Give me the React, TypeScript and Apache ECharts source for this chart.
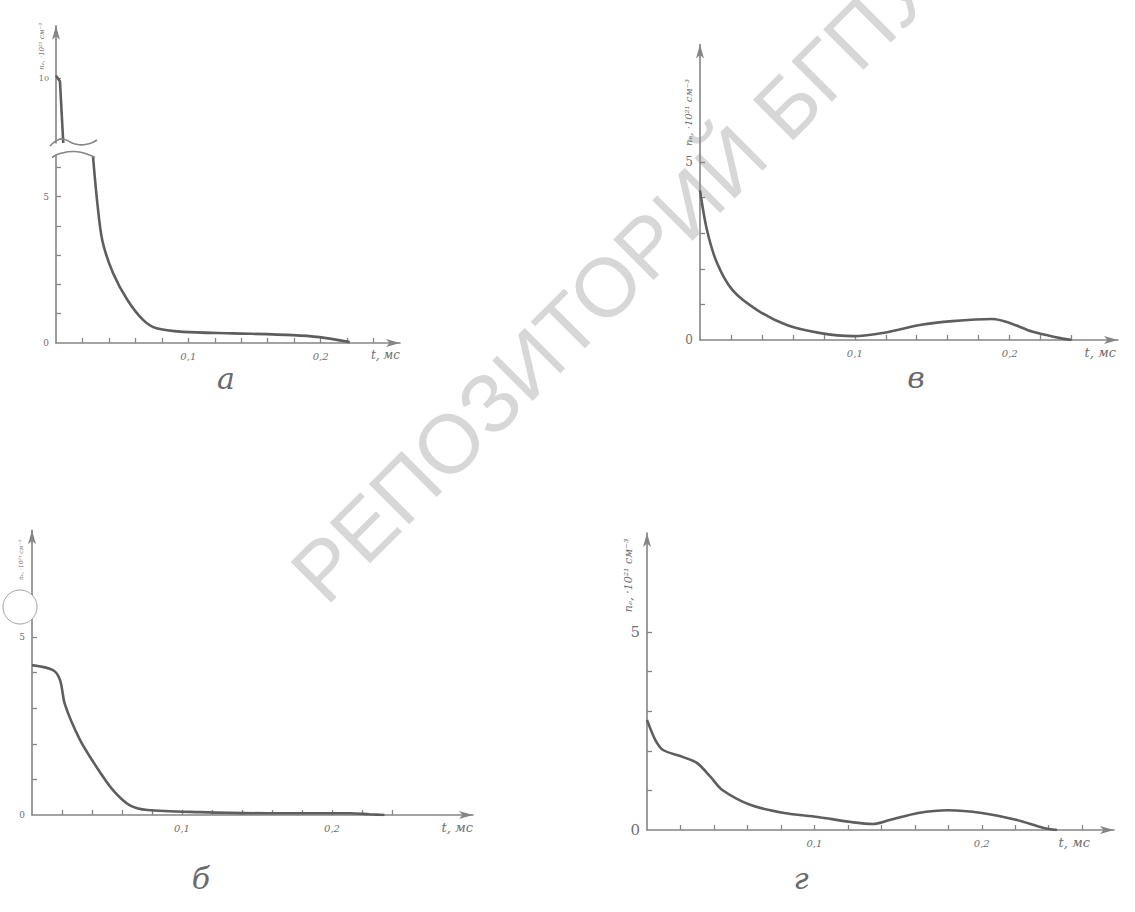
import React, { useEffect, useRef } from "react";
import * as echarts from "echarts";

// ---------- data (t in ms, n_e in 10^21 cm^-3) ----------
// panel а: part above the axis break
const tAUp = [0, 0.003, 0.0055];
const nAUp = [10.1, 9.9, 7.8];
// panel а: part below the axis break
const tA = [0.028, 0.031, 0.035, 0.043, 0.054, 0.066, 0.076, 0.096, 0.134, 0.179, 0.199, 0.222];
const nA = [6.35, 4.88, 3.5, 2.4, 1.47, 0.78, 0.5, 0.38, 0.33, 0.27, 0.2, 0.03];
// panel в
const tB = [0, 0.0045, 0.011, 0.021, 0.037, 0.056, 0.077, 0.099, 0.121, 0.142, 0.163, 0.189, 0.2, 0.215, 0.232, 0.24];
const nB = [4.2, 3.09, 2.16, 1.4, 0.84, 0.42, 0.2, 0.11, 0.22, 0.42, 0.53, 0.59, 0.48, 0.23, 0.06, 0];
// panel б
const tV = [0, 0.014, 0.0187, 0.022, 0.032, 0.043, 0.054, 0.065, 0.077, 0.112, 0.157, 0.212, 0.225, 0.235];
const nV = [4.21, 4.07, 3.79, 3.1, 2.11, 1.35, 0.7, 0.28, 0.14, 0.08, 0.05, 0.05, 0.02, 0];
// panel г
const tG = [0, 0.005, 0.0096, 0.0216, 0.03, 0.038, 0.045, 0.062, 0.082, 0.102, 0.122, 0.135, 0.145, 0.162, 0.18, 0.2, 0.221, 0.237, 0.245];
const nG = [2.78, 2.27, 2.02, 1.84, 1.69, 1.34, 1.01, 0.63, 0.43, 0.33, 0.2, 0.15, 0.25, 0.43, 0.5, 0.43, 0.25, 0.05, 0];

// tick / label values
const xTickA = [0.02, 0.04, 0.06, 0.08, 0.1, 0.12, 0.14, 0.16, 0.18, 0.2, 0.22, 0.24];
const xTickG = [0.02, 0.04, 0.06, 0.08, 0.1, 0.12, 0.14, 0.16, 0.18, 0.2, 0.22, 0.24, 0.26];
const xLabels = [0.1, 0.2];
const yTickA = [1, 2, 3, 4, 5, 6];
const yTick5 = [1, 2, 3, 4, 5];
const yLabels = [0, 5];
const yLabelsUp = [10];

const captions = ["а", "в", "б", "г"];
const xName = "t, мс";
const yName = "nₑ, ·10²¹ см⁻³";
const watermark = "РЕПОЗИТОРИЙ БГПУ";

const AX = "#858585";
const LINE = "#5e5e5e";
const LBL = "#6f6f6f";
const FONT = '"DejaVu Serif", serif';

const zip = (a: number[], b: number[]) => a.map((v, i) => [v, b[i]]);
const fmt = (v: number) => v.toFixed(1).replace(".", ",");

function xAx(grid: number, max: number, ticks: number[], nameGap: number, show = true, nameSize = 13) {
  return {
    type: "value",
    gridIndex: grid,
    min: 0,
    max,
    show,
    axisLine: {
      show: true,
      onZero: false,
      symbol: ["none", "arrow"],
      symbolSize: [6, 14],
      lineStyle: { color: AX, width: 1.6 },
    },
    axisTick: { show: true, inside: true, length: 5, customValues: ticks, lineStyle: { color: AX, width: 1.3 } },
    axisLabel: {
      customValues: xLabels,
      formatter: (v: number) => fmt(v),
      color: LBL,
      fontSize: 10,
      fontStyle: "italic",
      fontFamily: FONT,
      margin: 8,
    },
    splitLine: { show: false },
    name: xName,
    nameLocation: "end",
    nameGap,
    nameTextStyle: {
      align: "right",
      verticalAlign: "top",
      padding: [6, 0, 0, 0],
      color: LBL,
      fontSize: nameSize,
      fontStyle: "italic",
      fontFamily: FONT,
    },
  };
}

function yAx(grid: number, min: number, max: number, ticks: number[], labels: number[], arrow: boolean, fontSize = 11) {
  return {
    type: "value",
    gridIndex: grid,
    min,
    max,
    axisLine: {
      show: true,
      symbol: arrow ? ["none", "arrow"] : ["none", "none"],
      symbolSize: [6, 14],
      lineStyle: { color: AX, width: 1.6 },
    },
    axisTick: { show: true, inside: true, length: 5, customValues: ticks, lineStyle: { color: AX, width: 1.3 } },
    axisLabel: {
      customValues: labels,
      color: LBL,
      fontSize,
      fontFamily: FONT,
      margin: 7,
    },
    splitLine: { show: false },
  };
}

function line(xi: number, data: number[][], smooth: number | boolean = 0.3) {
  return {
    type: "line",
    xAxisIndex: xi,
    yAxisIndex: xi,
    data,
    showSymbol: false,
    smooth,
    lineStyle: { color: LINE, width: 2.6 },
    z: 5,
  };
}

export default function App() {
  const ref = useRef<HTMLDivElement>(null);
  useEffect(() => {
    const chart = echarts.init(ref.current!, null, { renderer: "svg" });
    const option: any = {
      animation: false,
      backgroundColor: "#ffffff",
      grid: [
        { left: 56, top: 155.5, width: 344, height: 187.5 },
        { left: 56, top: 25.8, width: 344, height: 117.2 },
        { left: 700, top: 44.5, width: 418, height: 295.5 },
        { left: 32, top: 530.2, width: 441, height: 284.8 },
        { left: 647, top: 533, width: 467, height: 297 },
      ],
      xAxis: [
        xAx(0, 0.26, xTickA, 0, true, 12),
        xAx(1, 0.26, [], 0, false),
        xAx(2, 0.27, xTickA, -2),
        xAx(3, 0.294, xTickA, 0),
        xAx(4, 0.279, xTickG, -24),
      ],
      yAxis: [
        yAx(0, 0, 6.4, yTickA, yLabels, false, 9),
        yAx(1, 7.8, 11.8, yLabelsUp, yLabelsUp, true, 8),
        yAx(2, 0, 8.3, yTick5, yLabels, true, 12),
        yAx(3, 0, 8, yTick5, yLabels, true, 9),
        yAx(4, 0, 7.5, yTick5, yLabels, true, 15),
      ],
      series: [
        line(0, zip(tA, nA)),
        line(1, zip(tAUp, nAUp), false),
        line(2, zip(tB, nB)),
        line(3, zip(tV, nV)),
        line(4, zip(tG, nG)),
      ],
    };
    chart.setOption(option);

    const px = (g: number, pt: number[]) => chart.convertToPixel({ gridIndex: g } as any, pt) as number[];
    const yLabel = (g: number, val: number, dx: number, size: number) => {
      const p = px(g, [0, val]);
      return {
        type: "text",
        x: p[0] + dx,
        y: p[1],
        rotation: Math.PI / 2,
        z: 10,
        style: {
          text: yName,
          fill: LBL,
          font: `italic ${size}px ${FONT}`,
          align: "left",
          verticalAlign: "middle",
        },
      };
    };
    const wave = (g: number, val: number, pts: number[][]) => {
      const o = px(g, [0, val]);
      return {
        type: "polyline",
        z: 10,
        shape: { points: pts.map((q) => [o[0] + q[0], o[1] + q[1]]), smooth: 0.5 },
        style: { stroke: AX, lineWidth: 1.6, fill: "none" },
      };
    };
    const caption = (text: string, x: number, y: number) => ({
      type: "text",
      x,
      y,
      z: 10,
      style: { text, fill: "#6a6a6a", font: `italic 30px ${FONT}`, align: "center", verticalAlign: "middle" },
    });

    chart.setOption({
      graphic: [
        {
          type: "text",
          x: 612,
          y: 281,
          rotation: Math.PI / 4,
          z: 0,
          silent: true,
          style: {
            text: watermark,
            fill: "#d7d7d7",
            font: '83px "Liberation Sans", sans-serif',
            align: "center",
            verticalAlign: "middle",
          },
        },
        yLabel(1, 10.3, -14, 7),
        yLabel(2, 5.45, -12, 10),
        yLabel(3, 6.6, -12, 6),
        yLabel(4, 5.5, -19, 11),
        wave(1, 7.8, [[-6, 3], [0, -2], [7, -4], [19, 1], [32, 1], [41, -3]]),
        wave(0, 6.4, [[-4, 2], [4, -2], [19, -4], [32, -1], [39, 2]]),
        caption(captions[0], 226, 378),
        caption(captions[1], 916, 377),
        caption(captions[2], 201, 878),
        caption(captions[3], 801, 878),
        {
          type: "circle",
          z: 20,
          shape: { cx: 20, cy: 607, r: 17 },
          style: { fill: "#ffffff", stroke: "#a0a0a0", lineWidth: 1 },
        },
      ],
    });
    return () => chart.dispose();
  }, []);
  return (
    <div
      ref={ref}
      style={{ position: "absolute", left: 0, top: 0, width: 1135, height: 912, background: "#fff" }}
    />
  );
}
